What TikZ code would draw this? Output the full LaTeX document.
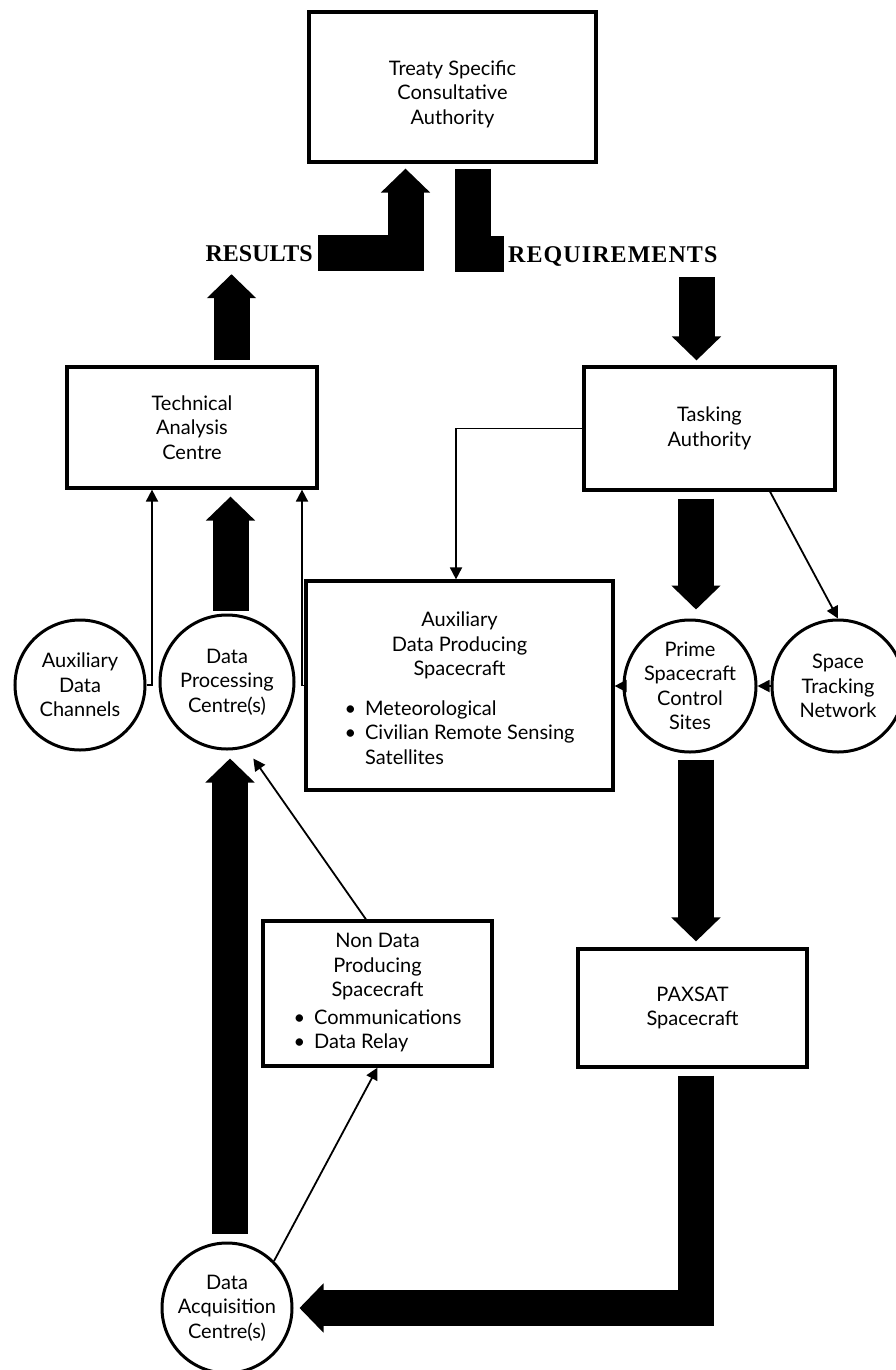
\documentclass[tikz,border=0pt]{standalone}
\usepackage{fontspec}
\setmainfont{Lato}
\newfontfamily\labfont{Liberation Serif}
\newfontfamily\labfontw[LetterSpace=4.5]{Liberation Serif}
\usetikzlibrary{arrows.meta}
\begin{document}
\begin{tikzpicture}[x=1pt,y=-1pt,
  every node/.style={font=\fontsize{20}{24.5}\selectfont, align=center},
  box/.style={draw, line width=3.2pt, rectangle, inner sep=0pt},
  disc/.style={draw, line width=3pt, circle, inner sep=0pt, minimum size=#1},
  fat/.style={line width=36pt, -{Triangle[length=24pt,width=48pt]}},
  fatplain/.style={line width=36pt},
  conn/.style={line width=1.8pt, -{Triangle[length=12pt,width=12pt]}},
  lab/.style={font=\labfont\bfseries\fontsize{24}{28}\selectfont, inner sep=0pt, text depth=0pt},
  labw/.style={font=\labfontw\bfseries\fontsize{24}{28}\selectfont, inner sep=0pt, text depth=0pt}
]
\useasboundingbox (0,0) rectangle (895,1370);

% boxes
\node[box, minimum width=287pt, minimum height=150pt,
  label={[yshift=-7pt]center:{Treaty Specific\\Consultative\\Authority}}] (tsca) at (452.5,87) {};
\node[box, minimum width=250pt, minimum height=121pt] (tac) at (192,427.5) {Technical\\Analysis\\Centre};
\node[box, minimum width=251pt, minimum height=123pt] (ta) at (709.5,428.5) {Tasking\\Authority};
\node[box, minimum width=307pt, minimum height=209pt,
  label={[yshift=-5pt]center:{%
\begin{tabular}{@{}l@{\hspace{9pt}}l@{}}
\multicolumn{2}{@{}c@{}}{Auxiliary}\\
\multicolumn{2}{@{}c@{}}{Data Producing}\\
\multicolumn{2}{@{}c@{}}{Spacecraft}\\[15pt]
\textbullet & Meteorological\\
\textbullet & Civilian Remote Sensing\\
 & Satellites
\end{tabular}}}] (apd) at (459.5,685.5) {};
\node[box, minimum width=229pt, minimum height=145pt] (ndp) at (377.5,993.5) {%
\begin{tabular}{@{}l@{\hspace{9pt}}l@{}}
\multicolumn{2}{@{}c@{}}{Non Data}\\
\multicolumn{2}{@{}c@{}}{Producing}\\
\multicolumn{2}{@{}c@{}}{Spacecraft}\\[3pt]
\textbullet & Communications\\
\textbullet & Data Relay
\end{tabular}};
\node[box, minimum width=229pt, minimum height=118pt] (pax) at (692.5,1008) {PAXSAT\\Spacecraft};

% circles
\node[disc=130pt] (adc) at (80,685) {Auxiliary\\Data\\Channels};
\node[disc=134pt] (dpc) at (227,682) {Data\\Processing\\Centre(s)};
\node[disc=132pt] (psc) at (690,686) {Prime\\Spacecraft\\Control\\Sites};
\node[disc=132pt] (stn) at (838,686) {Space\\Tracking\\Network};
\node[disc=130pt] (dac) at (227,1308) {Data\\Acquisition\\Centre(s)};

% labels
\node[lab, anchor=base east] (res) at (313,261) {RESULTS};
\node[labw, anchor=base west] (req) at (508,262) {REQUIREMENTS};

% thick arrows
\draw[fat, shorten <=5pt, shorten >=13pt] (tac.north -| 231.5,0) -- (res.south -| 231.5,0);
\draw[fat, shorten <=5pt, shorten >=5pt] (res.east) -| (tsca.south -| 405.5,0);
\draw[fatplain, shorten <=5pt, shorten >=4pt] (tsca.south -| 473,0) |- (req.west);
\draw[fat, shorten <=15pt, shorten >=5pt] (req.south -| 696.5,0) -- (ta.north -| 696.5,0);
\draw[fat, shorten <=7pt, shorten >=9pt] (ta.south -| 696,0) -- (psc.north -| 696,0);
\draw[fat, shorten <=6pt, shorten >=6pt] (psc.south -| 696,0) -- (pax.north -| 696,0);
\draw[fat, shorten <=7pt, shorten >=6pt] (pax.south -| 696,0) |- (dac.east);
\draw[fat, shorten <=8pt, shorten >=8pt] (dac.north -| 230,0) -- (dpc.south -| 230,0);
\draw[fat, shorten <=3pt, shorten >=7pt] (dpc.north -| 230.5,0) -- (tac.south -| 230.5,0);

% thin connectors
\draw[conn] (adc.east) -| (tac.south -| 152,0);
\draw[conn] (apd.west) -| (tac.south -| 302,0);
\draw[conn] (ta.west) -| (apd.north -| 456,0);
\draw[conn] (ta.south -| 770,0) -- (stn.north);
\draw[conn] (stn.west) -- (psc.east);
\draw[conn] (psc.west) -- (apd.east |- psc.west);
\draw[conn, shorten >=13pt] (ndp.north -| 366,0) -- (dpc.-74);
\draw[conn] (dac.45) -- (ndp.south);
\end{tikzpicture}
\end{document}
